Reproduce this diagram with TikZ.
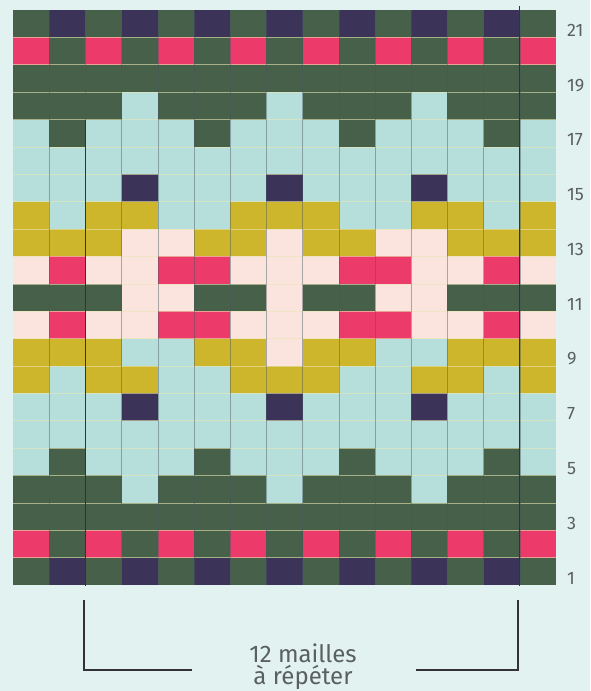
\documentclass[tikz,border=0pt]{standalone}
\usepackage{fontspec}
\setmainfont{Fira Sans}
\definecolor{bg}{HTML}{E2F2F0}
\definecolor{cG}{HTML}{46604A}
\definecolor{cN}{HTML}{3B3358}
\definecolor{cR}{HTML}{EC3A6A}
\definecolor{cL}{HTML}{B6DFDB}
\definecolor{cY}{HTML}{CDB52C}
\definecolor{cW}{HTML}{FBE4DE}
\definecolor{ink}{HTML}{5A5F5F}
\begin{document}
\begin{tikzpicture}[x=1pt,y=-1pt,
  hline/.style={draw=white!70!yellow!80!gray, line width=0.6pt, opacity=0.6},
  vline/.style={draw=black!70!cyan, line width=0.5pt, opacity=0.45},
  heavy/.style={draw=black!80, line width=1.3pt},
  bracket/.style={draw=black!80, line width=1.8pt},
  rowlab/.style={text=ink, font=\fontsize{18}{18}\selectfont, inner sep=0pt, anchor=base west},
  caption/.style={text=ink, font=\fontsize{24}{24}\selectfont, inner sep=0pt, anchor=base}]
\useasboundingbox (0,0) rectangle (590,691);
\fill[bg] (0,0) rectangle (590,691);
\foreach \r/\p in {
 21/{G,N,G,N,G,N,G,N,G,N,G,N,G,N,G},
 20/{R,G,R,G,R,G,R,G,R,G,R,G,R,G,R},
 19/{G,G,G,G,G,G,G,G,G,G,G,G,G,G,G},
 18/{G,G,G,L,G,G,G,L,G,G,G,L,G,G,G},
 17/{L,G,L,L,L,G,L,L,L,G,L,L,L,G,L},
 16/{L,L,L,L,L,L,L,L,L,L,L,L,L,L,L},
 15/{L,L,L,N,L,L,L,N,L,L,L,N,L,L,L},
 14/{Y,L,Y,Y,L,L,Y,Y,Y,L,L,Y,Y,L,Y},
 13/{Y,Y,Y,W,W,Y,Y,W,Y,Y,W,W,Y,Y,Y},
 12/{W,R,W,W,R,R,W,W,W,R,R,W,W,R,W},
 11/{G,G,G,W,W,G,G,W,G,G,W,W,G,G,G},
 10/{W,R,W,W,R,R,W,W,W,R,R,W,W,R,W},
 9/{Y,Y,Y,L,L,Y,Y,W,Y,Y,L,L,Y,Y,Y},
 8/{Y,L,Y,Y,L,L,Y,Y,Y,L,L,Y,Y,L,Y},
 7/{L,L,L,N,L,L,L,N,L,L,L,N,L,L,L},
 6/{L,L,L,L,L,L,L,L,L,L,L,L,L,L,L},
 5/{L,G,L,L,L,G,L,L,L,G,L,L,L,G,L},
 4/{G,G,G,L,G,G,G,L,G,G,G,L,G,G,G},
 3/{G,G,G,G,G,G,G,G,G,G,G,G,G,G,G},
 2/{R,G,R,G,R,G,R,G,R,G,R,G,R,G,R},
 1/{G,N,G,N,G,N,G,N,G,N,G,N,G,N,G}}{
  \foreach \c [count=\i from 0] in \p {
    \fill[fill=c\c] ({13+\i*36.2},{10+(21-\r)*27.381}) rectangle ++(36.4,27.6);
  }
}
\foreach \k in {1,...,20}
  \draw[hline] (13,{10+\k*27.381}) -- (556,{10+\k*27.381});
\foreach \i in {1,...,14}
  \draw[vline] ({13+\i*36.2},10) -- ++(0,575);
\draw[heavy] (85.4,119.5) -- (85.4,586);
\draw[heavy] (519.8,6) -- (519.8,586);
\foreach \r in {1,3,...,21}
  \node[rowlab] (n\r) at (567,{10+(22-\r)*27.381-1}) {\r};
\coordinate (bl1) at (84,600);
\coordinate (bl2) at (84,670);
\coordinate (bl3) at (192,670);
\coordinate (br1) at (416,670);
\coordinate (br2) at (518,670);
\coordinate (br3) at (518,600);
\draw[bracket] (bl1) -- (bl2) -- (bl3);
\draw[bracket] (br1) -- (br2) -- (br3);
\node[caption] (cap1) at (303,662) {12 mailles};
\node[caption] (cap2) at (303,684) {à répéter};
\end{tikzpicture}
\end{document}
